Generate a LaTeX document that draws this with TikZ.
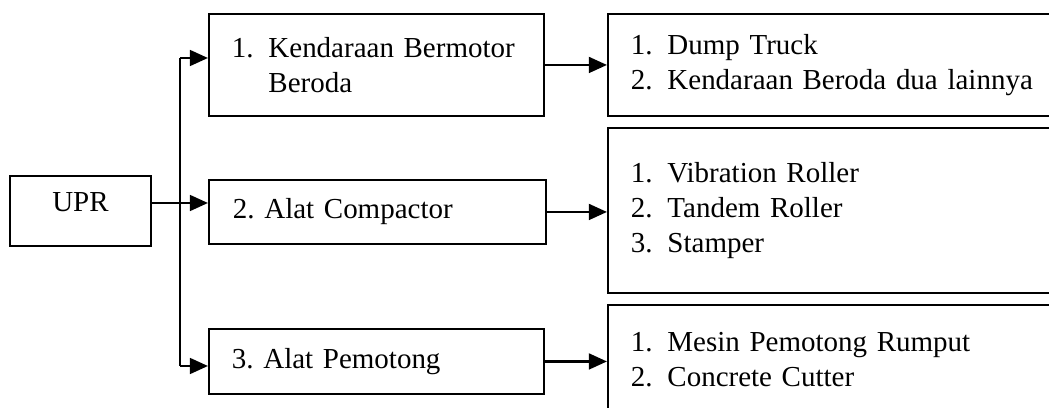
\documentclass[tikz,border=0pt]{standalone}
\usepackage{fontspec}
\setmainfont{Liberation Serif}
\usetikzlibrary{arrows.meta}
\newlength{\px}\setlength{\px}{0.414pt}
% numbered list entry with a hanging label
\newcommand{\itm}[1]{\makebox[36.5\px][l]{#1}}
\frenchspacing
\begin{document}
\begin{tikzpicture}[x=0.414pt,y=-0.414pt,
  box/.style={draw, line width=0.8pt, rectangle, anchor=north west,
    inner ysep=0pt, font=\fontsize{12}{14.5}\selectfont\frenchspacing},
  leftbox/.style={box, align=left, inner xsep=23*\px,
    text width=289*\px, minimum width=335*\px},
  rightbox/.style={box, align=left, inner xsep=23*\px,
    text width=440*\px, minimum width=486*\px},
  conn/.style={line width=1.1pt},
  arr/.style={conn, -{Triangle[length=7.5pt,width=6.5pt]}}]
\useasboundingbox (0,0) rectangle (1049,408);
\clip (0,0) rectangle (1049,408);

% root
\node[box, inner xsep=0pt, minimum width=141*\px, minimum height=70*\px]
  (upr) at (9,175) {\raisebox{3.5pt}[\height][\depth]{UPR}};

% categories
\node[leftbox, minimum height=102*\px] (b1) at (208,13)
  {\itm{1.}Kendaraan Bermotor\\\hspace*{36.5\px}Beroda};
\node[leftbox, minimum width=337*\px, minimum height=64*\px] (b2) at (208,179)
  {2. Alat Compactor\vphantom{y}};
\node[leftbox, minimum height=65*\px] (b3) at (208,328)
  {3. Alat Pemotong};

% equipment lists
\node[rightbox, minimum height=102*\px] (r1) at (607,13)
  {\itm{1.}Dump Truck\\\itm{2.}Kendaraan Beroda dua lainnya};
\node[rightbox, minimum height=165*\px] (r2) at (607,127)
  {\itm{1.}Vibration Roller\\\itm{2.}Tandem Roller\\\itm{3.}Stamper};
\node[rightbox, minimum height=109*\px] (r3) at (607,304)
  {\itm{1.}Mesin Pemotong Rumput\\\itm{2.}Concrete Cutter};

% branching trunk
\coordinate (jt) at (180,58);
\coordinate (jm) at (180,203);
\coordinate (jb) at (180,366);
\draw[conn] (jt) -- (jb);
\draw[arr] (upr.east |- jm) -- (jm -| b2.west);
\draw[arr] (jt) -- (jt -| b1.west);
\draw[arr] (jb) -- (jb -| b3.west);

% category to list
\draw[arr] (b1.east) -- (b1.east -| r1.west);
\draw[arr] (b2.east) -- (b2.east -| r2.west);
\draw[arr] (b3.east) -- (b3.east -| r3.west);
\end{tikzpicture}
\end{document}
